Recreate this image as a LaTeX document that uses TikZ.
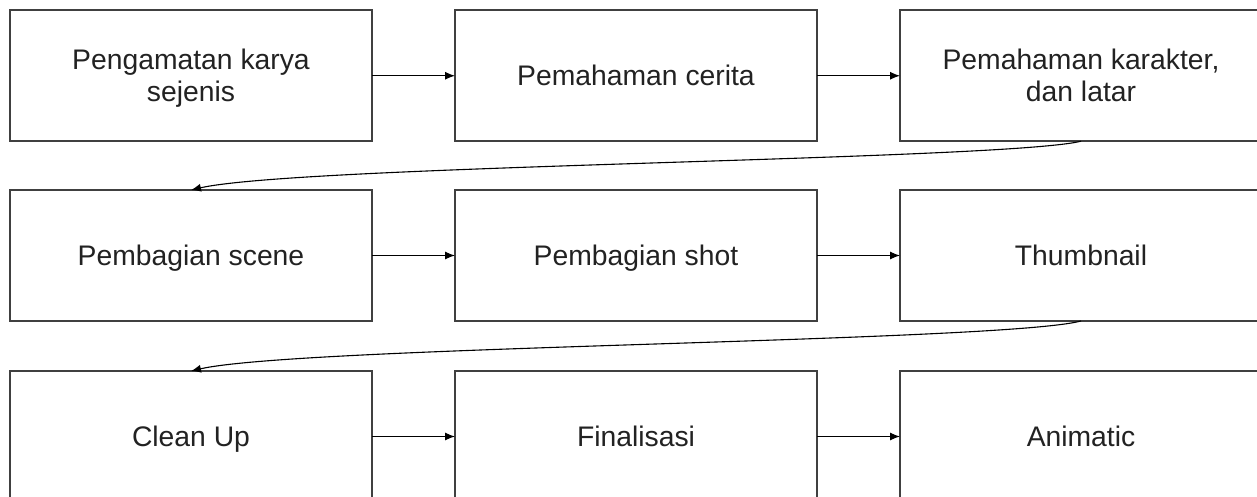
\documentclass[tikz,border=0pt]{standalone}
\usepackage{fontspec}
\setmainfont{Liberation Sans}
\usetikzlibrary{arrows.meta,calc}
\definecolor{boxline}{HTML}{404040}
\definecolor{txt}{HTML}{222222}
\newcommand\gstr{\rule[-0.212em]{0pt}{1.117em}}
\begin{document}
\begin{tikzpicture}[x=0.5pt,y=-0.5pt,
  stepbox/.style={draw=boxline,line width=0.9pt,rectangle,minimum width=181pt,minimum height=65.5pt,
    inner sep=0pt,outer sep=0pt,align=center,text=txt,font=\fontsize{14.15}{16}\selectfont},
  conn/.style={draw=black,line width=0.55pt,-{Latex[length=5pt,width=4pt]}}]
\path[use as bounding box,clip] (0,0) rectangle (1257,497);
\fill[white] (0,0) rectangle (1257,497);
\node[stepbox] (b1) at (191,75.75) {\gstr Pengamatan karya\\\gstr sejenis};
\node[stepbox] (b2) at (636,75.75) {\gstr Pemahaman cerita};
\node[stepbox] (b3) at (1081,75.75) {\gstr Pemahaman karakter,\\\gstr dan latar};
\node[stepbox] (b4) at (191,255.5) {\gstr Pembagian scene};
\node[stepbox] (b5) at (636,255.5) {\gstr Pembagian shot};
\node[stepbox] (b6) at (1081,255.5) {\gstr Thumbnail};
\node[stepbox] (b7) at (191,436.5) {\gstr Clean Up};
\node[stepbox] (b8) at (636,436.5) {\gstr Finalisasi};
\node[stepbox] (b9) at (1081,436.5) {\gstr Animatic};
\draw[conn] (b1.east) -- (b2.west);
\draw[conn] (b2.east) -- (b3.west);
\draw[conn] (b4.east) -- (b5.west);
\draw[conn] (b5.east) -- (b6.west);
\draw[conn] (b7.east) -- (b8.west);
\draw[conn] (b8.east) -- (b9.west);
\draw[conn] (b3.south) .. controls ($(b3.south)+(-80,19)$) and ($(b4.north)+(109,-25)$) .. (b4.north);
\draw[conn] (b6.south) .. controls ($(b6.south)+(-80,21)$) and ($(b7.north)+(109,-25)$) .. (b7.north);
\end{tikzpicture}
\end{document}
